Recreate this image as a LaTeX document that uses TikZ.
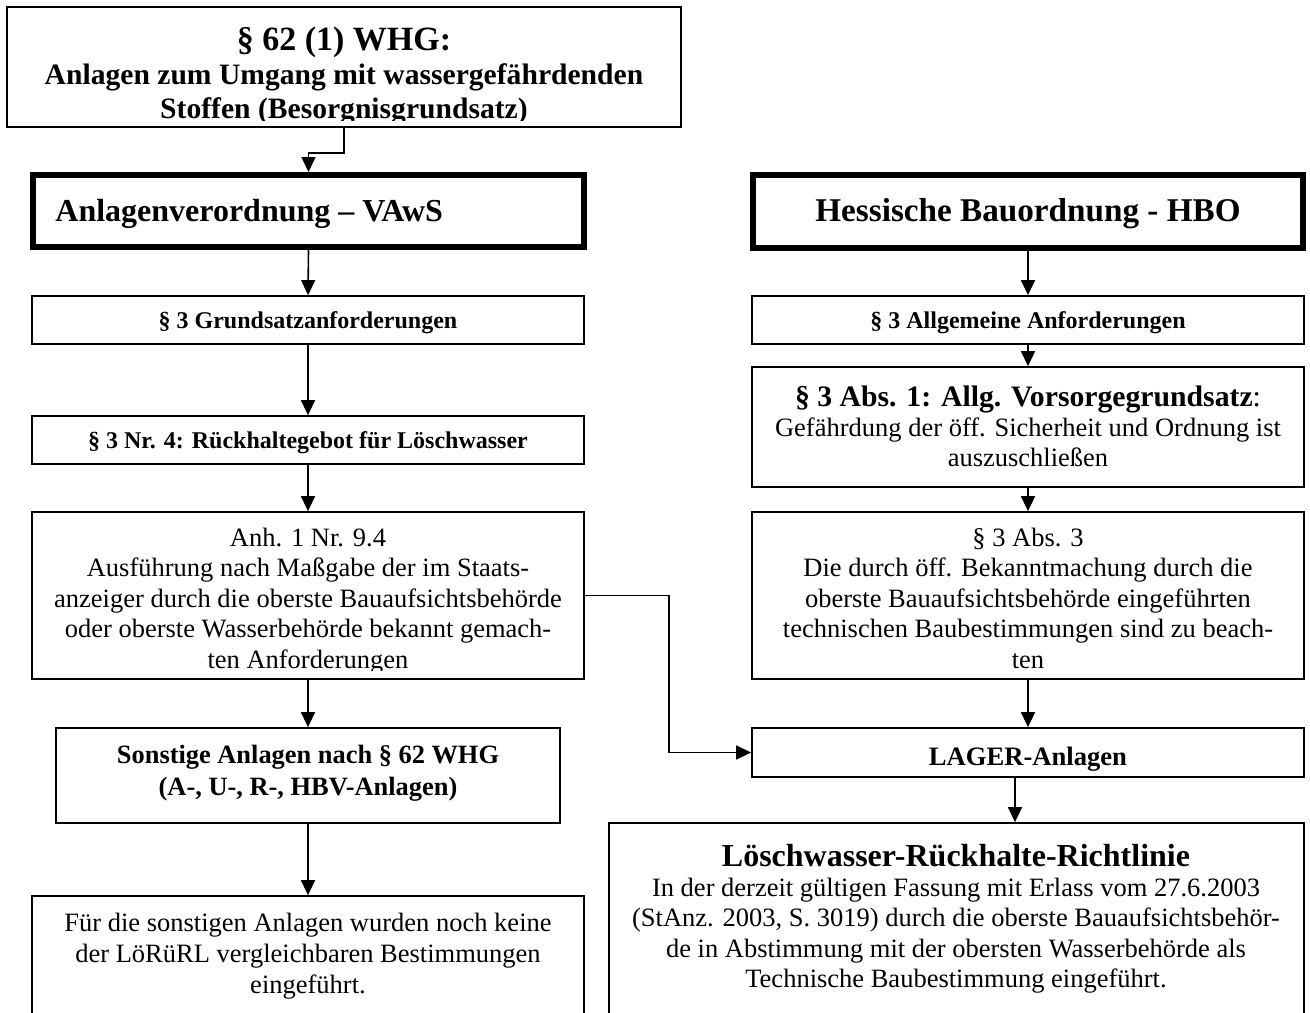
\documentclass[tikz,border=0pt]{standalone}
\usepackage{fontspec}
\setmainfont{Liberation Serif}
\usetikzlibrary{arrows.meta}
\begin{document}
\begin{tikzpicture}[x=0.5pt,y=-0.5pt,
  boxthin/.style={draw, line width=0.9pt, inner sep=0pt},
  boxthick/.style={draw, line width=3pt, inner sep=0pt},
  txt/.style={inner sep=0pt, align=center, anchor=base},
  arr/.style={-{Triangle[width=7pt,length=7.5pt]}, line width=0.8pt},
  fnorm/.style={font=\fontsize{13.25}{15.25}\selectfont},
  fsmall/.style={font=\fontsize{12}{14}\selectfont\bfseries},
]
\fill[white] (0,0) rectangle (1310,1012);
\useasboundingbox (0,0) rectangle (1310,1012);

% boxes
\node[boxthin, minimum width=337pt, minimum height=60pt] (top) at (344,67) {};
\node[boxthick, minimum width=275.5pt, minimum height=36pt] (vaws) at (308.5,211) {};
\node[boxthick, minimum width=275pt, minimum height=36.5pt] (hbo) at (1028,211.5) {};
\node[boxthin, minimum width=276pt, minimum height=24pt] (grund) at (308,320) {};
\node[boxthin, minimum width=276pt, minimum height=24pt] (rueck) at (308,440) {};
\node[boxthin, minimum width=276pt, minimum height=83.5pt] (anh) at (308,595.5) {};
\node[boxthin, minimum width=252pt, minimum height=47.5pt] (sonst) at (308,775.5) {};
\node[boxthin, minimum width=276pt, minimum height=67pt] (fuer) at (308,963) {};
\node[boxthin, minimum width=276pt, minimum height=24pt] (allg) at (1028,320) {};
\node[boxthin, minimum width=276pt, minimum height=60pt] (vors) at (1028,427) {};
\node[boxthin, minimum width=276pt, minimum height=83.5pt] (abs) at (1028,595.5) {};
\node[boxthin, minimum width=276pt, minimum height=24.5pt] (lager) at (1028,752.5) {};
\node[boxthin, minimum width=347.5pt, minimum height=103.5pt] (loesch) at (956.5,926.5) {};

% texts (multi-line nodes: base = last line)
\node[txt, font=\fontsize{17}{19}\selectfont\bfseries] (topT) at (344,50) {§ 62 (1) WHG:};
\begin{scope}
  \clip (7,7) rectangle (681,120);
  \node[txt, font=\fontsize{14.8}{17}\selectfont\bfseries] (topB) at (344,118)
    {Anlagen zum Umgang mit wassergefährdenden\\Stoffen (Besorgnisgrundsatz)};
\end{scope}
\node[txt, anchor=base west, font=\fontsize{16}{18}\selectfont\bfseries] (vawsT) at (55,221) {Anlagenverordnung – VAwS};
\node[txt, font=\fontsize{16.6}{18}\selectfont\bfseries] (hboT) at (1028,221) {Hessische Bauordnung - HBO};
\node[txt, fsmall] (grundT) at (308,328) {§ 3 Grundsatzanforderungen};
\node[txt, fsmall] (rueckT) at (308,448) {§ 3 Nr. 4: Rückhaltegebot für Löschwasser};
\begin{scope}
  \clip (32,512) rectangle (584,670);
  \node[txt, fnorm] (anhT) at (308,668)
    {Anh. 1 Nr. 9.4\\Ausführung nach Maßgabe der im Staats-\\anzeiger durch die oberste Bauaufsichtsbehörde\\oder oberste Wasserbehörde bekannt gemach-\\ten Anforderungen};
\end{scope}
\node[txt, font=\fontsize{13.2}{16}\selectfont\bfseries] (sonstT) at (308,795)
  {Sonstige Anlagen nach § 62 WHG\\(A-, U-, R-, HBV-Anlagen)};
\node[txt, font=\fontsize{13.25}{15.5}\selectfont] (fuerT) at (308,993)
  {Für die sonstigen Anlagen wurden noch keine\\der LöRüRL vergleichbaren Bestimmungen\\eingeführt.};
\node[txt, fsmall] (allgT) at (1028,328) {§ 3 Allgemeine Anforderungen};
\node[txt, font=\fontsize{14.85}{16}\selectfont] (vorsH) at (1028,406) {\textbf{§ 3 Abs. 1: Allg. Vorsorgegrundsatz}:};
\node[txt, font=\fontsize{13.25}{15}\selectfont] (vorsB) at (1028,466) {Gefährdung der öff. Sicherheit und Ordnung ist\\auszuschließen};
\node[txt, fnorm] (absT) at (1028,668)
  {§ 3 Abs. 3\\Die durch öff. Bekanntmachung durch die\\oberste Bauaufsichtsbehörde eingeführten\\technischen Baubestimmungen sind zu beach-\\ten};
\node[txt, font=\fontsize{13.3}{15}\selectfont\bfseries] (lagerT) at (1028,765) {LAGER-Anlagen};
\node[txt, font=\fontsize{16}{18}\selectfont\bfseries] (loeschH) at (956,866) {Löschwasser-Rückhalte-Richtlinie};
\node[txt, fnorm] (loeschB) at (956,987.5)
  {In der derzeit gültigen Fassung mit Erlass vom 27.6.2003\\(StAnz. 2003, S. 3019) durch die oberste Bauaufsichtsbehör-\\de in Abstimmung mit der obersten Wasserbehörde als\\Technische Baubestimmung eingeführt.};

% connectors
\coordinate (lx) at (1015,0);
\draw[arr] (top.south) -- ++(0,25) -| (vaws.north);
\draw[arr] (vaws.south) -- (grund.north);
\draw[arr] (grund.south) -- (rueck.north);
\draw[arr] (rueck.south) -- (anh.north);
\draw[arr] (anh.south) -- (sonst.north);
\draw[arr] (sonst.south) -- (fuer.north);
\draw[arr] (hbo.south) -- (allg.north);
\draw[arr] (allg.south) -- (vors.north);
\draw[arr] (vors.south) -- (abs.north);
\draw[arr] (abs.south) -- (lager.north);
\draw[arr] (lager.south -| lx) -- (loesch.north -| lx);
\draw[arr] (anh.east) -- ++(84,0) |- (lager.west);
\end{tikzpicture}
\end{document}
